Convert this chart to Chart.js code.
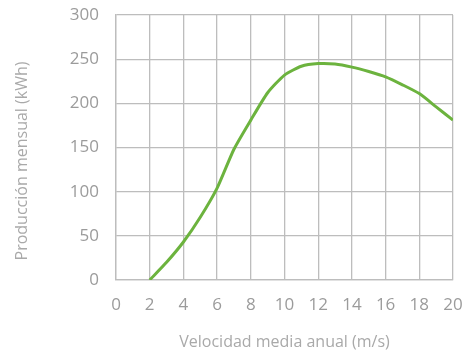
<!DOCTYPE html>
<html>
<head>
<meta charset="utf-8">
<script src="https://cdn.jsdelivr.net/npm/chart.js@4.4.0/dist/chart.umd.min.js"></script>
<style>
  html, body { margin: 0; padding: 0; background: #fff; }
  #wrap { width: 466px; height: 352px; }
</style>
</head>
<body>
<div id="wrap"><canvas id="graph" width="466" height="352"></canvas></div>
<script>
// velocidad media anual (m/s) y producción mensual (kWh)
var velocidad = [2, 3, 4, 5, 6, 7, 8, 9, 10, 11, 12, 13, 14, 15, 16, 17, 18, 19, 20];
var produccion = [0, 20, 43, 71, 104, 148, 181, 212, 232, 242, 245, 244.5, 241, 236, 230, 221, 211, 196, 181];

var gris = '#9b9b9b';
var fuente = 'Open Sans';

var puntos = velocidad.map(function(v, i) {
	return { x: v, y: produccion[i] };
});

// título del eje Y, un poco por debajo del centro del área
var tituloY = {
	id: 'tituloY',
	afterDraw: function(chart) {
		var c = chart.ctx;
		c.save();
		c.translate(22, 161);
		c.rotate(-Math.PI / 2);
		c.fillStyle = '#a9a9a9';
		c.font = '16px "' + fuente + '"';
		c.textAlign = 'center';
		c.textBaseline = 'middle';
		c.fillText('Producción mensual (kWh)', 0, 0);
		c.restore();
	}
};

var ctx = document.getElementById('graph');
new Chart(ctx, {
	type: 'line',
	data: {
		datasets: [{
			data: puntos,
			borderColor: '#6cb33e',
			borderWidth: 3,
			pointRadius: 0,
			tension: 0.2,
			fill: false
		}]
	},
	options: {
		responsive: false,
		animation: false,
		layout: { padding: { top: 15, right: 13, left: 0, bottom: 0 } },
		plugins: { legend: { display: false }, tooltip: { enabled: false } },
		scales: {
			x: {
				type: 'linear',
				min: 0,
				max: 20,
				ticks: { stepSize: 2, color: gris, font: { family: fuente, size: 17 }, padding: 15 },
				grid: { color: '#bdbdbd', lineWidth: 1.3, drawTicks: false },
				border: { color: '#bdbdbd', width: 1.3 },
				title: {
					display: true,
					text: 'Velocidad media anual (m/s)',
					color: '#a9a9a9',
					font: { family: fuente, size: 16 },
					padding: { top: 14, bottom: 0 }
				},
				afterFit: function(scale) {
					scale.height = 72;
					scale.paddingLeft = 0;
					scale.paddingRight = 0;
				}
			},
			y: {
				min: 0,
				max: 300,
				ticks: { stepSize: 50, color: gris, font: { family: fuente, size: 17 }, padding: 17 },
				grid: { color: '#bdbdbd', lineWidth: 1.3, drawTicks: false },
				border: { color: '#bdbdbd', width: 1.3 },
				afterFit: function(scale) {
					scale.width = 116;
					scale.paddingTop = 0;
					scale.paddingBottom = 0;
				}
			}
		}
	},
	plugins: [tituloY]
});
</script>
</body>
</html>
